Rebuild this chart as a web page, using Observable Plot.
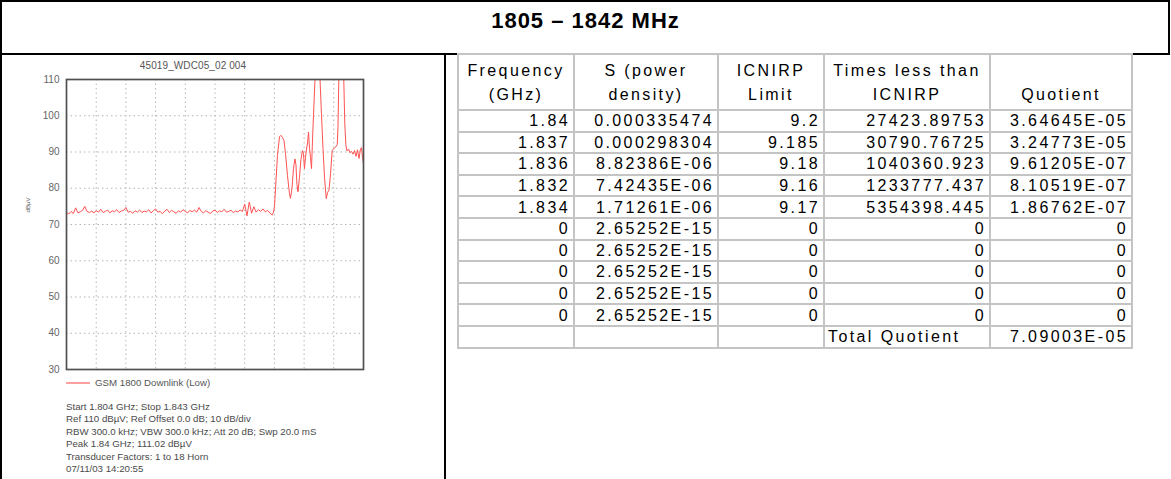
<!DOCTYPE html>
<html><head><meta charset="utf-8">
<script src="https://cdn.jsdelivr.net/npm/d3@7"></script>
<script src="https://cdn.jsdelivr.net/npm/@observablehq/plot@0.6"></script>
<style>
html,body{margin:0;padding:0;background:#fff;}
body{width:1171px;height:479px;overflow:hidden;position:relative;font-family:"Liberation Sans",Arial,sans-serif;}
#titlebox{position:absolute;left:0;top:0;width:1166px;height:51px;border:2px solid #000;}
#title{position:absolute;left:0;width:1171px;top:8px;text-align:center;font-weight:bold;font-size:22px;letter-spacing:1px;color:#000;}
#leftline{position:absolute;left:0;top:0;width:2px;height:479px;background:#000;}
#divider{position:absolute;left:444px;top:53px;width:2px;height:426px;background:#000;}
#chart{position:absolute;left:0;top:53px;}
#charttitle{position:absolute;left:93px;width:200px;top:60px;text-align:center;font-size:10px;letter-spacing:0.1px;color:#555;}
#ylabel{position:absolute;left:15px;top:202px;width:26px;text-align:center;font-size:6px;color:#555;transform:rotate(-90deg);}
#legend{position:absolute;left:66px;top:377px;font-size:9.7px;color:#555;display:flex;align-items:center;}
#legend .sw{display:inline-block;width:24px;height:2px;background:#ffa0a0;margin-right:5px;}
#caption{position:absolute;left:66px;top:401px;font-size:9.7px;line-height:12.4px;color:#4a4a4a;white-space:pre;}
#tbl{position:absolute;left:457px;top:53px;border-collapse:collapse;table-layout:fixed;font-size:16px;letter-spacing:2.4px;color:#000;}
#tbl td{border:2px solid #c4c4c4;padding:0 3px 0 3px;height:19.6px;line-height:17px;text-align:right;white-space:nowrap;overflow:hidden;}
#tbl tr.head td{height:50px;vertical-align:top;text-align:center;line-height:24px;padding-top:4px;}
#tbl td.lab{text-align:left;}
</style></head>
<body>
<div id="titlebox"></div>
<div id="title">1805 – 1842 MHz</div>
<div id="leftline"></div>
<div id="divider"></div>
<div id="charttitle">45019_WDC05_02 004</div>
<div id="chart"></div>
<div id="ylabel">dBµV</div>
<div id="legend"><span class="sw"></span><span>GSM 1800 Downlink (Low)</span></div>
<div id="caption"></div>
<table id="tbl"></table>
<script>
// ---- spectrum trace (MHz, dBµV) ----
const startMHz = 1804, stopMHz = 1843;
const traceFreqMHz = [
1804.0,1804.3,1804.6,1804.9,1805.2,1805.5,1805.8,1806.1,1806.4,1806.7,
1807.0,1807.3,1807.6,1807.9,1808.2,1808.5,1808.8,1809.1,1809.4,1809.7,
1810.0,1810.3,1810.6,1810.9,1811.2,1811.5,1811.8,1812.1,1812.4,1812.7,
1813.0,1813.3,1813.6,1813.9,1814.2,1814.5,1814.8,1815.1,1815.4,1815.7,
1816.0,1816.3,1816.6,1816.9,1817.2,1817.5,1817.8,1818.1,1818.4,1818.7,
1819.0,1819.3,1819.6,1819.9,1820.2,1820.5,1820.8,1821.1,1821.4,1821.7,
1822.0,1822.3,1822.6,1822.9,1823.2,1823.5,1823.8,1824.1,1824.4,1824.7,
1825.0,1825.3,1825.6,1825.9,1826.2,1826.5,1826.8,1827.1,1827.4,1827.7,
1828.0,1828.3,1828.6,1828.9,1829.2,1829.5,1829.8,1830.1,1830.4,1830.7,
1831.0,1831.18,1831.31,1831.51,1831.70,1831.97,1832.16,1832.36,1832.56,1832.76,
1833.02,1833.28,1833.41,1833.61,1833.81,1834.0,1834.13,1834.26,1834.40,1834.59,
1834.79,1834.99,1835.12,1835.25,1835.38,1835.52,1835.65,1835.78,1835.91,1836.04,
1836.17,1836.30,1836.43,1836.63,1836.96,1837.29,1837.49,1837.68,1837.88,1838.11,
1838.28,1838.47,1838.67,1838.89,1839.06,1839.32,1839.55,1839.65,1839.76,1840.05,
1840.41,1840.54,1840.68,1840.83,1841.03,1841.23,1841.42,1841.62,1841.82,1842.01,
1842.21,1842.41,1842.61,1842.74,1842.87,1843.0
];
const traceLevel = [
73.3,72.9,73.6,73.0,74.6,73.2,73.5,73.9,75.0,73.6,
73.3,73.7,73.2,73.8,73.4,74.2,73.3,73.6,74.0,73.2,
73.8,73.5,74.1,73.3,73.7,73.9,74.7,73.4,73.6,73.1,
73.8,73.4,74.0,73.3,73.7,73.5,74.1,73.2,73.8,74.3,
73.4,73.6,73.0,73.7,74.2,73.3,73.9,73.5,73.1,73.8,
73.4,74.1,73.6,73.2,73.9,73.5,74.0,73.4,74.7,73.6,
73.2,73.8,73.4,73.0,73.7,74.0,73.3,73.8,73.5,74.2,
73.4,73.6,73.9,73.3,73.7,73.5,74.0,73.6,75.6,72.4,
76.2,73.1,74.9,73.4,74.1,73.6,74.3,73.5,73.9,73.2,
72.6,73.4,75.0,82.0,89.0,94.2,94.6,94.0,93.2,89.5,
83.5,78.5,77.2,80.0,85.5,88.1,86.5,81.0,79.0,83.0,
88.0,90.4,89.6,85.4,88.5,90.8,92.5,95.5,91.0,88.5,
85.4,93.0,100.0,110.0,112.0,110.0,100.0,91.0,83.0,77.1,
78.8,79.5,84.0,90.4,90.9,91.3,92.0,97.0,110.0,111.02,
110.0,98.0,92.0,90.3,90.8,89.8,90.2,89.4,90.4,88.8,
90.6,88.2,90.9,91.2,88.5,86.8
];
const yTicks = [30,40,50,60,70,80,90,100,110];
const yGrid = [40,50,60,70,80,90,100];
const xDivisions = 10;
const xGridMHz = d3.range(1, xDivisions).map(k => startMHz + k * (stopMHz - startMHz) / xDivisions);
const seriesName = "GSM 1800 Downlink (Low)";
const captionLines = [
"Start 1.804 GHz; Stop 1.843 GHz",
"Ref 110 dBµV; Ref Offset 0.0 dB; 10 dB/div",
"RBW 300.0 kHz; VBW 300.0 kHz; Att 20 dB; Swp 20.0 mS",
"Peak 1.84 GHz; 111.02 dBµV",
"Transducer Factors: 1 to 18 Horn",
"07/11/03 14:20:55"
];

// ---- table ----
const headers = [["Frequency","(GHz)"],["S (power","density)"],["ICNIRP","Limit"],["Times less than","ICNIRP"],["\u00a0","Quotient"]];
const frequencyGHz = ["1.84","1.837","1.836","1.832","1.834","0","0","0","0","0"];
const powerDensity = ["0.000335474","0.000298304","8.82386E-06","7.42435E-06","1.71261E-06","2.65252E-15","2.65252E-15","2.65252E-15","2.65252E-15","2.65252E-15"];
const icnirpLimit = ["9.2","9.185","9.18","9.16","9.17","0","0","0","0","0"];
const timesLess = ["27423.89753","30790.76725","1040360.923","1233777.437","5354398.445","0","0","0","0","0"];
const quotient = ["3.64645E-05","3.24773E-05","9.61205E-07","8.10519E-07","1.86762E-07","0","0","0","0","0"];
const totalLabel = "Total Quotient";
const totalQuotient = "7.09003E-05";
const colWidths = [116,144,106,166,142];

const trace = traceFreqMHz.map((f, i) => ({f, v: traceLevel[i]}));
const font = "'Liberation Sans', Arial, sans-serif";
const chart = Plot.plot({
  width: 446, height: 322,
  marginLeft: 66, marginRight: 83, marginTop: 26, marginBottom: 6,
  style: {background: "transparent", color: "#666", fontSize: "10px", fontFamily: font},
  x: {domain: [startMHz, stopMHz], axis: null},
  y: {domain: [30, 110]},
  marks: [
    Plot.gridX(xGridMHz, {stroke: "#b4b4b4", strokeOpacity: 1, strokeDasharray: "1.5,3"}),
    Plot.gridY(yGrid, {stroke: "#b4b4b4", strokeOpacity: 1, strokeDasharray: "1.5,3"}),
    Plot.axisY(yTicks, {tickSize: 0, tickPadding: 7, fill: "#666", label: null}),
    Plot.line(trace, {x: "f", y: "v", stroke: "#ff5252", strokeWidth: 1, clip: true}),
    Plot.frame({stroke: "#505050", strokeWidth: 1.7})
  ]
});
document.getElementById("chart").appendChild(chart);
document.getElementById("caption").textContent = captionLines.join("\n");

const tbl = document.getElementById("tbl");
const cg = document.createElement("colgroup");
colWidths.forEach(w => { const c = document.createElement("col"); c.style.width = w + "px"; cg.appendChild(c); });
tbl.appendChild(cg);
tbl.style.width = d3.sum(colWidths) + "px";
const hr = document.createElement("tr"); hr.className = "head";
headers.forEach(h => { const td = document.createElement("td"); td.innerHTML = h.map(s => s.replace(/&/g,"&amp;")).join("<br>"); hr.appendChild(td); });
tbl.appendChild(hr);
frequencyGHz.forEach((f, i) => {
  const tr = document.createElement("tr");
  [f, powerDensity[i], icnirpLimit[i], timesLess[i], quotient[i]].forEach(v => {
    const td = document.createElement("td"); td.textContent = v; tr.appendChild(td);
  });
  tbl.appendChild(tr);
});
const tr = document.createElement("tr");
["", "", "", totalLabel, totalQuotient].forEach((v, j) => {
  const td = document.createElement("td"); td.textContent = v; if (j === 3) td.className = "lab"; tr.appendChild(td);
});
tbl.appendChild(tr);
</script>
</body></html>
